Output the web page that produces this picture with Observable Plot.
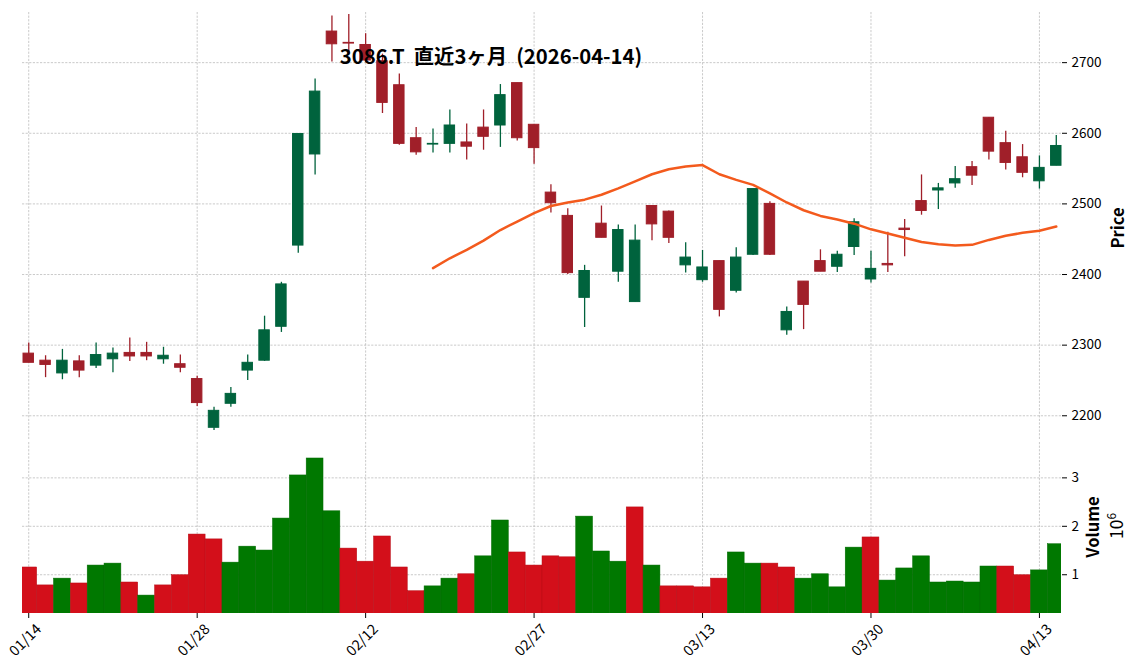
<!DOCTYPE html>
<html><head><meta charset="utf-8">
<script src="https://cdn.jsdelivr.net/npm/d3@7"></script>
<script src="https://cdn.jsdelivr.net/npm/@observablehq/plot@0.6"></script>
<style>
body{margin:0;background:#fff;}
#wrap{position:relative;width:1137px;height:670px;}
#wrap svg{position:absolute;left:0;top:0;}
</style></head><body><div id="wrap"></div>
<script>
const dates = ["01/14","01/15","01/16","01/19","01/20","01/21","01/22","01/23","01/26","01/27",
"01/28","01/29","01/30","02/02","02/03","02/04","02/05","02/06","02/09","02/10",
"02/12","02/13","02/16","02/17","02/18","02/19","02/20","02/24","02/25","02/26",
"02/27","03/02","03/03","03/04","03/05","03/06","03/09","03/10","03/11","03/12",
"03/13","03/16","03/17","03/18","03/19","03/23","03/24","03/25","03/26","03/27",
"03/30","03/31","04/01","04/02","04/03","04/06","04/07","04/08","04/09","04/10",
"04/13","04/14"];
const open = [2288,2278,2260,2277,2271,2280,2289,2289,2280,2273, 2252,2183,2217,2264,2278,2326,2441,2570,2744,2728,
2725,2702,2668,2593,2584,2585,2587,2608,2611,2671, 2612,2516,2483,2367,2472,2404,2361,2497,2489,2413,
2392,2419,2377,2428,2500,2321,2390,2419,2411,2439, 2393,2415,2465,2504,2519,2529,2552,2622,2586,2566, 2532,2554];
const close = [2275,2272,2278,2264,2286,2288,2284,2284,2285,2268, 2218,2207,2231,2275,2321,2386,2599,2659,2726,2727,
2703,2643,2585,2573,2585,2611,2581,2595,2654,2593, 2579,2501,2402,2405,2452,2463,2448,2471,2452,2424,
2410,2350,2424,2521,2428,2347,2357,2404,2428,2474, 2408,2413,2463,2490,2522,2535,2540,2574,2558,2544, 2551,2582];
const high = [2303,2285,2294,2285,2303,2296,2310,2304,2297,2286, 2256,2212,2240,2286,2341,2389,2599,2677,2766,2768,
2741,2712,2684,2608,2606,2633,2613,2633,2669,2671, 2612,2527,2493,2413,2497,2470,2470,2497,2490,2445,
2434,2419,2438,2521,2503,2354,2390,2435,2433,2479, 2433,2460,2478,2541,2529,2553,2560,2622,2603,2584, 2568,2597];
const low = [2275,2254,2251,2254,2267,2261,2277,2278,2273,2261, 2213,2179,2212,2250,2277,2318,2430,2541,2701,2714,
2700,2628,2583,2569,2572,2572,2562,2576,2580,2589, 2556,2487,2400,2325,2452,2389,2361,2448,2444,2402,
2389,2340,2374,2427,2427,2314,2322,2404,2403,2427, 2388,2403,2425,2484,2492,2522,2526,2562,2548,2537, 2521,2554];
// volume in millions (10^6)
const volume = [1.15,0.78,0.92,0.82,1.19,1.23,0.84,0.57,0.78,0.99, 1.83,1.73,1.25,1.58,1.50,2.16,3.05,3.40,2.31,1.54,
1.27,1.79,1.15,0.66,0.76,0.92,1.01,1.38,2.12,1.46, 1.19,1.38,1.36,2.20,1.48,1.27,2.39,1.19,0.76,0.76,
0.74,0.92,1.46,1.23,1.23,1.15,0.92,1.01,0.74,1.56, 1.77,0.88,1.13,1.38,0.84,0.86,0.84,1.17,1.17,0.99, 1.09,1.63];
const volumeUp = [0,0,1,0,1,1,0,1,0,0, 0,0,1,1,1,1,1,1,1,0, 0,0,0,0,1,1,0,1,1,0,
0,0,0,1,1,1,0,1,0,0, 0,0,1,1,0,0,1,1,1,1, 0,1,1,1,1,1,1,1,0,0, 1,1];
// 25-day moving average, from the 25th session onward
const maStart = 24;
const ma25 = [2409,2423,2435,2448,2463,2475,2487,2497,2502,2506,2513,2522,2532,2542,2549,2553,2555,2542,2534,2527,
2515,2502,2491,2483,2478,2472,2464,2458,2452,2446,2443,2441,2442,2449,2455,2459,2462,2468];
const priceTicks = [2200,2300,2400,2500,2600,2700];
const volumeTicks = [1,2,3];
const dateTickIndex = [0,10,20,30,40,50,60];
const title = "3086.T  直近3ヶ月  (2026-04-14)";

const UP = "#00633d", DOWN = "#a01f29";
const VUP = "#007800", VDOWN = "#d30f1a";
const MA_COLOR = "#f35a1d";

const rows = dates.map((d,i)=>({i, date:d, open:open[i], high:high[i], low:low[i], close:close[i],
  volume:volume[i], vup:!!volumeUp[i]}));
const maRows = ma25.map((v,k)=>({i:maStart+k, ma:v}));

const W=1137, H=670;
const xDomain = [-0.37, 61.31];
const font = "'Noto Sans CJK JP','Noto Sans',sans-serif";
const common = {width:W, height:H, marginLeft:22, marginRight:76,
  style:{fontFamily:font, fontSize:"13.5px", background:"transparent", color:"#000", overflow:"visible"}};
const grid = {stroke:"#bdbdbd", strokeOpacity:1, strokeWidth:0.8, strokeDasharray:"2.2,1.4"};

const price = Plot.plot({
  ...common, marginTop:12, marginBottom:230,
  x:{domain:xDomain, axis:null},
  y:{domain:[2165,2771], axis:null},
  color:{type:"identity"},
  marks:[
    Plot.gridY(priceTicks, grid),
    Plot.gridX(dateTickIndex, grid),
    Plot.ruleX(rows, {x:"i", y1:"low", y2:"high", stroke:d=>d.close>=d.open?UP:DOWN, strokeWidth:1.3}),
    Plot.rect(rows, {x1:d=>d.i-0.31, x2:d=>d.i+0.31, y1:"open", y2:"close",
      fill:d=>d.close>=d.open?UP:DOWN, stroke:d=>d.close>=d.open?UP:DOWN, strokeWidth:1}),
    Plot.line(maRows, {x:"i", y:"ma", stroke:MA_COLOR, strokeWidth:2.5}),
    Plot.axisY({anchor:"right", ticks:priceTicks, tickSize:5, tickPadding:5, label:null, tickFormat:d=>String(d)})
  ]
});

const vol = Plot.plot({
  ...common, marginTop:442, marginBottom:57,
  x:{domain:xDomain},
  y:{domain:[0.2,3.73]},
  color:{type:"identity"},
  marks:[
    Plot.gridY(volumeTicks, grid),
    Plot.gridX(dateTickIndex, grid),
    Plot.rect(rows, {x1:d=>d.i-0.5, x2:d=>d.i+0.5, y1:()=>0, y2:"volume",
      fill:d=>d.vup?VUP:VDOWN, stroke:d=>d.vup?"#006a00":"#b80d16", strokeWidth:0.5, clip:true}),
    Plot.axisY({anchor:"right", ticks:volumeTicks, tickSize:5, tickPadding:5, label:null, tickFormat:d=>String(d)}),
    Plot.axisX({ticks:dateTickIndex, tickSize:5, tickFormat:()=>"", label:null}),
    Plot.text(dateTickIndex, {x:d=>d, text:d=>dates[d], frameAnchor:"bottom", dy:30, rotate:-45,
      textAnchor:"middle", fontSize:14.5})
  ]
});

const wrap = document.getElementById("wrap");
wrap.appendChild(price);
wrap.appendChild(vol);

const ov = d3.select(wrap).append("svg").attr("width",W).attr("height",H)
  .style("font-family", font);
ov.append("text").attr("x",491).attr("y",63.5).attr("text-anchor","middle")
  .style("white-space","pre").attr("xml:space","preserve")
  .attr("font-size",20.3).attr("font-weight","bold").text(title);
ov.append("text").attr("transform","translate(1124,228) rotate(-90)").attr("text-anchor","middle")
  .attr("font-size",16.5).attr("font-weight","bold").text("Price");
ov.append("text").attr("transform","translate(1099,527) rotate(-90)").attr("text-anchor","middle")
  .attr("font-size",16.5).attr("font-weight","bold").text("Volume");
const t = ov.append("text").attr("transform","translate(1123,539) rotate(-90)").attr("text-anchor","start")
  .attr("font-size",17.5);
t.append("tspan").text("10");
t.append("tspan").attr("dy",-7.5).attr("font-size",12).text("6");
</script></body></html>
